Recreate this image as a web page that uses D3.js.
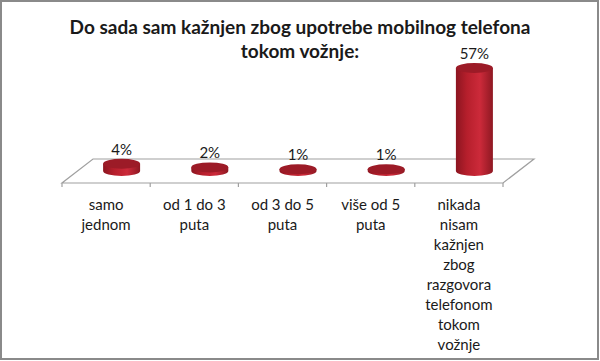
<!DOCTYPE html>
<html>
<head>
<meta charset="utf-8">
<script src="https://cdnjs.cloudflare.com/ajax/libs/d3/7.8.5/d3.min.js"></script>
<style>
  body { margin: 0; background: #fff; }
  svg text { font-family: Lato, "Open Sans", sans-serif; fill: #1a1a1a; }
</style>
</head>
<body>
<div id="chart"></div>
<script>
// data
var categories = [
  ["samo", "jednom"],
  ["od 1 do 3", "puta"],
  ["od 3 do 5", "puta"],
  ["više od 5", "puta"],
  ["nikada", "nisam", "kažnjen", "zbog", "razgovora", "telefonom", "tokom", "vožnje"]
];
var values = [4, 2, 1, 1, 57];
var valueLabels = ["4%", "2%", "1%", "1%", "57%"];
var titleLines = ["Do sada sam kažnjen zbog upotrebe mobilnog telefona", "tokom vožnje:"];

var W = 600, H = 361;
var depthX = 31, depthY = -24;   // floor depth offset
var frontY = 183;

var svg = d3.select("#chart").append("svg")
  .attr("width", W).attr("height", H);

var defs = svg.append("defs");
var g1 = defs.append("linearGradient").attr("id", "body").attr("x1", 0).attr("x2", 1).attr("y1", 0).attr("y2", 0);
g1.append("stop").attr("offset", "0%").attr("stop-color", "#8c1520");
g1.append("stop").attr("offset", "30%").attr("stop-color", "#b61f2c");
g1.append("stop").attr("offset", "65%").attr("stop-color", "#cc2a3a");
g1.append("stop").attr("offset", "100%").attr("stop-color", "#8e1822");

// border
svg.append("rect")
  .attr("x", 1).attr("y", 1).attr("width", W - 3).attr("height", H - 3)
  .attr("fill", "none").attr("stroke", "#8a8a8a").attr("stroke-width", 2);

// title
svg.append("text")
  .attr("x", 300).attr("y", 34)
  .attr("text-anchor", "middle")
  .style("font-size", "19px").style("font-weight", "bold")
  .selectAll("tspan").data(titleLines).enter().append("tspan")
  .attr("x", 300).attr("dy", function(d, i) { return i ? 24 : 0; })
  .text(function(d) { return d; });

var x = d3.scaleBand().domain(d3.range(categories.length)).range([62, 503]);
var y = d3.scaleLinear().domain([0, 57]).range([0, 103]);

// floor
var x0 = x.range()[0], x1 = x.range()[1];
svg.append("path")
  .attr("d", "M" + x0 + "," + frontY + "L" + x1 + "," + frontY +
    "L" + (x1 + depthX) + "," + (frontY + depthY) +
    "L" + (x0 + depthX) + "," + (frontY + depthY) + "Z")
  .attr("fill", "none").attr("stroke", "#a0a0a0").attr("stroke-width", 1.2);

// ticks
svg.selectAll("line.tick")
  .data(d3.range(categories.length + 1)).enter().append("line")
  .attr("class", "tick")
  .attr("x1", function(i) { return x0 + i * x.bandwidth(); })
  .attr("x2", function(i) { return x0 + i * x.bandwidth(); })
  .attr("y1", frontY).attr("y2", frontY + 4)
  .attr("stroke", "#a0a0a0").attr("stroke-width", 1.2);

// cylinders
var rx = 18.5, ry = 5;
var baseY = frontY + depthY / 2;
var bars = svg.selectAll("g.bar")
  .data(values).enter().append("g").attr("class", "bar");

bars.append("path")
  .attr("d", function(d, i) {
    var cx = x(i) + x.bandwidth() / 2 + depthX / 2;
    var top = baseY - y(d);
    return "M" + (cx - rx) + "," + top +
      "L" + (cx - rx) + "," + baseY +
      "A" + rx + "," + ry + " 0 0 0 " + (cx + rx) + "," + baseY +
      "L" + (cx + rx) + "," + top + "Z";
  })
  .attr("fill", "url(#body)");

bars.append("ellipse")
  .attr("cx", function(d, i) { return x(i) + x.bandwidth() / 2 + depthX / 2; })
  .attr("cy", function(d) { return baseY - y(d); })
  .attr("rx", rx).attr("ry", ry)
  .attr("fill", "#9c1b27");

// value labels
bars.append("text")
  .attr("x", function(d, i) { return x(i) + x.bandwidth() / 2 + depthX / 2; })
  .attr("y", function(d) { return baseY - y(d) - ry - 4; })
  .attr("text-anchor", "middle")
  .style("font-size", "15px")
  .text(function(d, i) { return valueLabels[i]; });

// category labels
var cat = svg.selectAll("text.cat")
  .data(categories).enter().append("text")
  .attr("class", "cat")
  .attr("text-anchor", "middle")
  .style("font-size", "15px");
cat.selectAll("tspan")
  .data(function(d, i) { return d.map(function(s) { return { s: s, i: i }; }); })
  .enter().append("tspan")
  .attr("x", function(d) { return x(d.i) + x.bandwidth() / 2; })
  .attr("y", function(d, j) { return 210 + j * 20; })
  .text(function(d) { return d.s; });
</script>
</body>
</html>
